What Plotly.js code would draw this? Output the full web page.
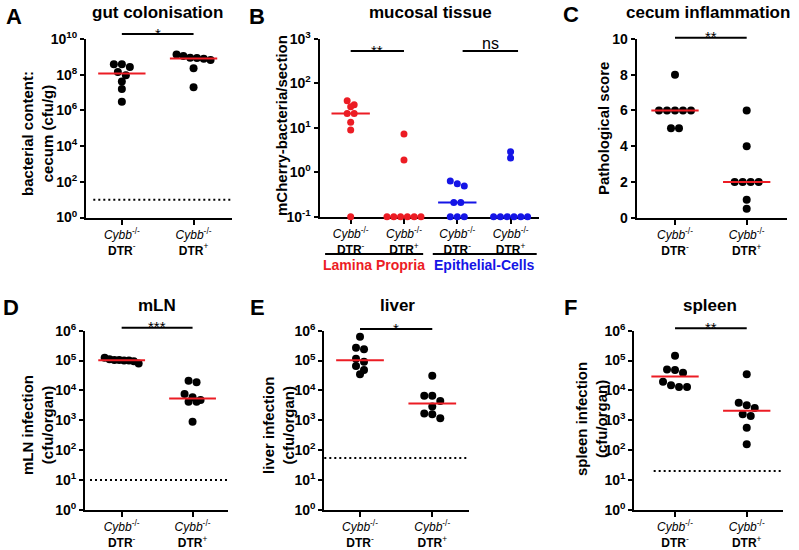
<!DOCTYPE html>
<html><head><meta charset="utf-8">
<script src="https://cdn.plot.ly/plotly-3.0.1.min.js"></script>
<style>html,body{margin:0;padding:0;background:#fff}#chart{width:799px;height:550px}</style>
</head><body><div id="chart"></div>
<script>
// ---------------- data ----------------
const groupTickText = [
  '<i>Cybb</i><sup>-/-</sup><br><b>DTR</b><sup>-</sup>',
  '<i>Cybb</i><sup>-/-</sup><br><b>DTR</b><sup>+</sup>'
];
// A: gut colonisation, cfu/g cecum
const gutNeg = [3.8e8, 2.7e8, 3.8e8, 9.3e7, 1.4e8, 4.2e7, 1.6e7, 3.1e6];
const gutPos = [1.1e9, 8.9e8, 6.6e8, 7.8e8, 8.5e8, 1.35e9, 2.3e8, 1.95e7];
// B: mCherry bacteria per section
const lpNeg = [41, 33, 30, 21, 21, 13.4, 9.0, 0.1];
const lpPos = [7.3, 1.9, 0.1, 0.1, 0.1, 0.1, 0.1, 0.1];
const ecNeg = [0.64, 0.55, 0.49, 0.21, 0.21, 0.1, 0.1, 0.1];
const ecPos = [2.9, 2.1, 0.1, 0.1, 0.1, 0.1, 0.1, 0.1];
const tissueGroups = ['Lamina Propria', 'Epithelial-Cells'];
// C: pathological score
const scoreNeg = [8, 6, 6, 6, 6, 6, 5, 5];
const scorePos = [6, 4, 2, 2, 2, 2, 1, 0.5];
// D-F: cfu/organ
const mlnNeg = [1.25e5, 1.1e5, 1.05e5, 1.05e5, 1.0e5, 1.0e5, 0.95e5, 0.8e5];
const mlnPos = [2.1e4, 1.9e4, 7.6e3, 5.9e3, 4.8e3, 4.2e3, 4.2e3, 900];
const liverNeg = [6.3e5, 2.7e5, 2.4e5, 1.15e5, 9.1e4, 6.6e4, 4.8e4, 3.5e4];
const liverPos = [3.1e4, 6.6e3, 6.6e3, 4.4e3, 2.9e3, 1.7e3, 1.6e3, 1.17e3];
const spleenNeg = [1.45e5, 5.0e4, 4.8e4, 3.9e4, 1.95e4, 1.5e4, 1.3e4, 1.3e4];
const spleenPos = [3.5e4, 3.9e3, 3.2e3, 2.6e3, 1.6e3, 1.4e3, 570, 158];
// detection limits (dotted lines)
const gutLimit = 10;
const mlnLimit = 10;
const liverLimit = 55;
const spleenLimit = 20;
// significance labels
const sigA = '*', sigBlp = '**', sigBec = 'ns', sigC = '**', sigD = '***', sigE = '*', sigF = '**';
// tick values/labels
const logTicks10 = [1, 1e2, 1e4, 1e6, 1e8, 1e10];
const logTicks10Text = ['10<sup>0</sup>', '10<sup>2</sup>', '10<sup>4</sup>', '10<sup>6</sup>', '10<sup>8</sup>', '10<sup>10</sup>'];
const logTicksB = [0.1, 1, 10, 100, 1000];
const logTicksBText = ['10<sup>-1</sup>', '10<sup>0</sup>', '10<sup>1</sup>', '10<sup>2</sup>', '10<sup>3</sup>'];
const logTicks6 = [1, 10, 100, 1e3, 1e4, 1e5, 1e6];
const logTicks6Text = ['10<sup>0</sup>', '10<sup>1</sup>', '10<sup>2</sup>', '10<sup>3</sup>', '10<sup>4</sup>', '10<sup>5</sup>', '10<sup>6</sup>'];
const scoreTicks = [0, 2, 4, 6, 8, 10];

// ---------------- styling / geometry ----------------
const W = 799, H = 550;
const FONT = 'Liberation Sans, Arial, Helvetica, sans-serif';
const BLACK = '#000000', RED = '#ec1c24', BLUE = '#1515e6';

const boxes = {
  A: {x0: 86, x1: 232, y0: 39, y1: 217.5, xr: [-0.5, 1.536]},
  B: {x0: 319.5, x1: 539, y0: 39, y1: 216.7, xr: [-0.585, 3.533]},
  C: {x0: 636.7, x1: 786.7, y0: 39, y1: 217.7, xr: [-0.534, 1.558]},
  D: {x0: 85, x1: 228.3, y0: 330.7, y1: 510, xr: [-0.517, 1.504]},
  E: {x0: 324.3, x1: 469, y0: 330.7, y1: 510, xr: [-0.494, 1.508]},
  F: {x0: 634.3, x1: 783.3, y0: 330.7, y1: 510, xr: [-0.568, 1.51]}
};
const py = p => 1 - p / H;   // pixel row -> paper y
const px = p => p / W;       // pixel col -> paper x

function median(a) {
  const s = [...a].sort((p, q) => p - q), n = s.length;
  return n % 2 ? s[(n - 1) / 2] : (s[n / 2 - 1] + s[n / 2]) / 2;
}
// GraphPad-like scatter spreading: points with near-equal values are laid in centred rows
function swarm(vals, isLog, pxPerY, pxPerX, diam, maxW) {
  const idx = vals.map((v, i) => i).sort((a, b) => vals[b] - vals[a]);
  const pos = v => (isLog ? Math.log10(v) : v) * pxPerY;
  const offs = new Array(vals.length).fill(0);
  let row = [], startY = null;
  const flush = () => {
    const n = row.length;
    const step = n > 1 ? Math.min(diam, maxW / (n - 1)) : 0;
    row.forEach((k, j) => { offs[k] = (j - (n - 1) / 2) * step / pxPerX; });
    row = [];
  };
  idx.forEach(k => {
    const y = pos(vals[k]);
    if (row.length && Math.abs(startY - y) > diam * 0.75) flush();
    if (!row.length) startY = y;
    row.push(k);
  });
  flush();
  return offs;
}

const panels = [
  {key: 'A', n: '', type: 'log', yr: [0, 10], diam: 8, hw: 0.33,
   series: [{v: gutNeg, g: 0, c: BLACK, m: RED}, {v: gutPos, g: 1, c: BLACK, m: RED}]},
  {key: 'B', n: '2', type: 'log', yr: [-1, 3], diam: 7, hw: 0.36,
   series: [{v: lpNeg, g: 0, c: RED, m: RED}, {v: lpPos, g: 1, c: RED, m: RED},
            {v: ecNeg, g: 2, c: BLUE, m: BLUE}, {v: ecPos, g: 3, c: BLUE, m: BLUE}]},
  {key: 'C', n: '3', type: 'linear', yr: [0, 10], diam: 8, hw: 0.33,
   series: [{v: scoreNeg, g: 0, c: BLACK, m: RED}, {v: scorePos, g: 1, c: BLACK, m: RED}]},
  {key: 'D', n: '4', type: 'log', yr: [0, 6], diam: 8, hw: 0.33,
   series: [{v: mlnNeg, g: 0, c: BLACK, m: RED}, {v: mlnPos, g: 1, c: BLACK, m: RED}]},
  {key: 'E', n: '5', type: 'log', yr: [0, 6], diam: 8, hw: 0.33,
   series: [{v: liverNeg, g: 0, c: BLACK, m: RED}, {v: liverPos, g: 1, c: BLACK, m: RED}]},
  {key: 'F', n: '6', type: 'log', yr: [0, 6], diam: 8, hw: 0.33,
   series: [{v: spleenNeg, g: 0, c: BLACK, m: RED}, {v: spleenPos, g: 1, c: BLACK, m: RED}]}
];

const traces = [];
const layout = {
  width: W, height: H, margin: {l: 0, r: 0, t: 0, b: 0},
  paper_bgcolor: '#fff', plot_bgcolor: 'rgba(0,0,0,0)', showlegend: false,
  font: {family: FONT, color: BLACK}, shapes: [], annotations: []
};

const baseAxis = {
  showline: true, linewidth: 2, linecolor: BLACK, ticks: 'outside', tickwidth: 2,
  tickcolor: BLACK, showgrid: false, zeroline: false, fixedrange: true,
  layer: 'below traces', tickmode: 'array'
};

panels.forEach(p => {
  const b = boxes[p.key];
  const pxPerX = (b.x1 - b.x0) / (b.xr[1] - b.xr[0]);
  const pxPerY = (b.y1 - b.y0) / (p.yr[1] - p.yr[0]);
  const isLog = p.type === 'log';
  const xa = 'x' + p.n, ya = 'y' + p.n;
  layout['xaxis' + p.n] = Object.assign({}, baseAxis, {
    domain: [px(b.x0), px(b.x1)], range: b.xr, anchor: ya, ticklen: 5,
    tickvals: p.series.map(s => s.g),
    ticktext: p.series.map(s => groupTickText[s.g % 2]),
    tickfont: {family: FONT, size: 12, color: BLACK}
  });
  let yt = {};
  if (p.key === 'A') yt = {tickvals: logTicks10, ticktext: logTicks10Text};
  else if (p.key === 'B') yt = {tickvals: logTicksB, ticktext: logTicksBText};
  else if (p.key === 'C') yt = {tickvals: scoreTicks, ticktext: scoreTicks.map(String)};
  else yt = {tickvals: logTicks6, ticktext: logTicks6Text};
  layout['yaxis' + p.n] = Object.assign({}, baseAxis, yt, {
    domain: [py(b.y1), py(b.y0)], range: p.yr, type: p.type, anchor: xa, ticklen: 4,
    tickfont: {family: FONT, size: 14, color: BLACK, weight: 'bold'}
  });
  p.series.forEach(s => {
    const offs = swarm(s.v, isLog, pxPerY, pxPerX, p.diam, 34);
    traces.push({
      type: 'scatter', mode: 'markers', xaxis: xa, yaxis: ya, cliponaxis: false, hoverinfo: 'skip',
      x: s.v.map((v, i) => s.g + offs[i]), y: s.v,
      marker: {size: p.diam, color: s.c, line: {width: 0}}
    });
    const med = median(s.v);
    traces.push({
      type: 'scatter', mode: 'lines', xaxis: xa, yaxis: ya, cliponaxis: false, hoverinfo: 'skip',
      x: [s.g - p.hw, s.g + p.hw], y: [med, med], line: {color: s.m, width: 2}
    });
  });
});

// detection limits (dotted), drawn as horizontal reference lines at the limit value
[['', gutLimit, 0.05], ['4', mlnLimit, 0.035], ['5', liverLimit, 0.0], ['6', spleenLimit, 0.13]].forEach(([n, lim, start]) => {
  layout.shapes.push({type: 'line', xref: 'x' + n + ' domain', yref: 'y' + n,
    x0: start, x1: 1, y0: lim, y1: lim,
    line: {color: BLACK, width: 2, dash: '2px,3px'}});
});

// significance bars
const sigBars = [
  {n: '', x0: 0, x1: 1, y: 34, t: sigA},
  {n: '2', x0: 0, x1: 1, y: 51, t: sigBlp},
  {n: '2', x0: 2.1, x1: 3.14, y: 51, t: sigBec},
  {n: '3', x0: 0, x1: 1, y: 37.7, t: sigC},
  {n: '4', x0: 0, x1: 1, y: 327.7, t: sigD},
  {n: '5', x0: 0, x1: 1, y: 329, t: sigE},
  {n: '6', x0: 0, x1: 1, y: 328.3, t: sigF}
];
sigBars.forEach(s => {
  layout.shapes.push({type: 'line', xref: 'x' + s.n, yref: 'paper', x0: s.x0, x1: s.x1,
    y0: py(s.y), y1: py(s.y), line: {color: BLACK, width: 2}});
  const isNs = s.t === 'ns';
  layout.annotations.push({xref: 'x' + s.n, yref: 'paper', x: (s.x0 + s.x1) / 2,
    y: py(isNs ? s.y - 7 : s.y - 1), yanchor: 'middle', xanchor: 'center', showarrow: false,
    text: s.t, font: {family: FONT, size: isNs ? 16 : 15, color: BLACK}});
});

// B group labels and underlines
const groupSpans = [[-0.48, 1.36, RED], [1.54, 3.49, BLUE]];
groupSpans.forEach((g, i) => {
  layout.shapes.push({type: 'line', xref: 'x2', yref: 'paper', x0: g[0], x1: g[1],
    y0: py(254), y1: py(254), line: {color: BLACK, width: 2}});
  layout.annotations.push({xref: 'x2', yref: 'paper', x: (g[0] + g[1]) / 2, y: py(264.5),
    yanchor: 'middle', xanchor: 'center', showarrow: false, text: tissueGroups[i],
    font: {family: FONT, size: 14, color: g[2], weight: 'bold'}});
});

// panel titles, letters, y-axis titles
const texts = [
  {t: 'gut colonisation', x: 157, y: 12, s: 17},
  {t: 'mucosal tissue', x: 430, y: 12, s: 17},
  {t: 'cecum inflammation', x: 708, y: 12, s: 17},
  {t: 'mLN', x: 157, y: 305, s: 17},
  {t: 'liver', x: 397, y: 305, s: 17},
  {t: 'spleen', x: 710, y: 305, s: 17},
  {t: 'A', x: 14, y: 17, s: 22}, {t: 'B', x: 257, y: 17, s: 22}, {t: 'C', x: 571, y: 15, s: 22},
  {t: 'D', x: 11, y: 307, s: 22}, {t: 'E', x: 257, y: 307, s: 22}, {t: 'F', x: 570, y: 307, s: 22},
  {t: 'bacterial content:<br>cecum (cfu/g)', x: 37, y: 134, s: 15, a: -90},
  {t: 'mCherry-bacteria/section', x: 281, y: 126, s: 15, a: -90},
  {t: 'Pathological score', x: 603, y: 129, s: 15, a: -90},
  {t: 'mLN infection<br>(cfu/organ)', x: 37, y: 425, s: 15, a: -90},
  {t: 'liver infection<br>(cfu/organ)', x: 278, y: 425, s: 15, a: -90},
  {t: 'spleen infection<br>(cfu/organ)', x: 591, y: 419, s: 15, a: -90}
];
texts.forEach(o => layout.annotations.push({
  xref: 'paper', yref: 'paper', x: px(o.x), y: py(o.y), xanchor: 'center', yanchor: 'middle',
  showarrow: false, text: o.t, textangle: o.a || 0,
  font: {family: FONT, size: o.s, color: BLACK, weight: 'bold'}
}));

Plotly.newPlot('chart', traces, layout, {staticPlot: true, displayModeBar: false});
</script></body></html>
